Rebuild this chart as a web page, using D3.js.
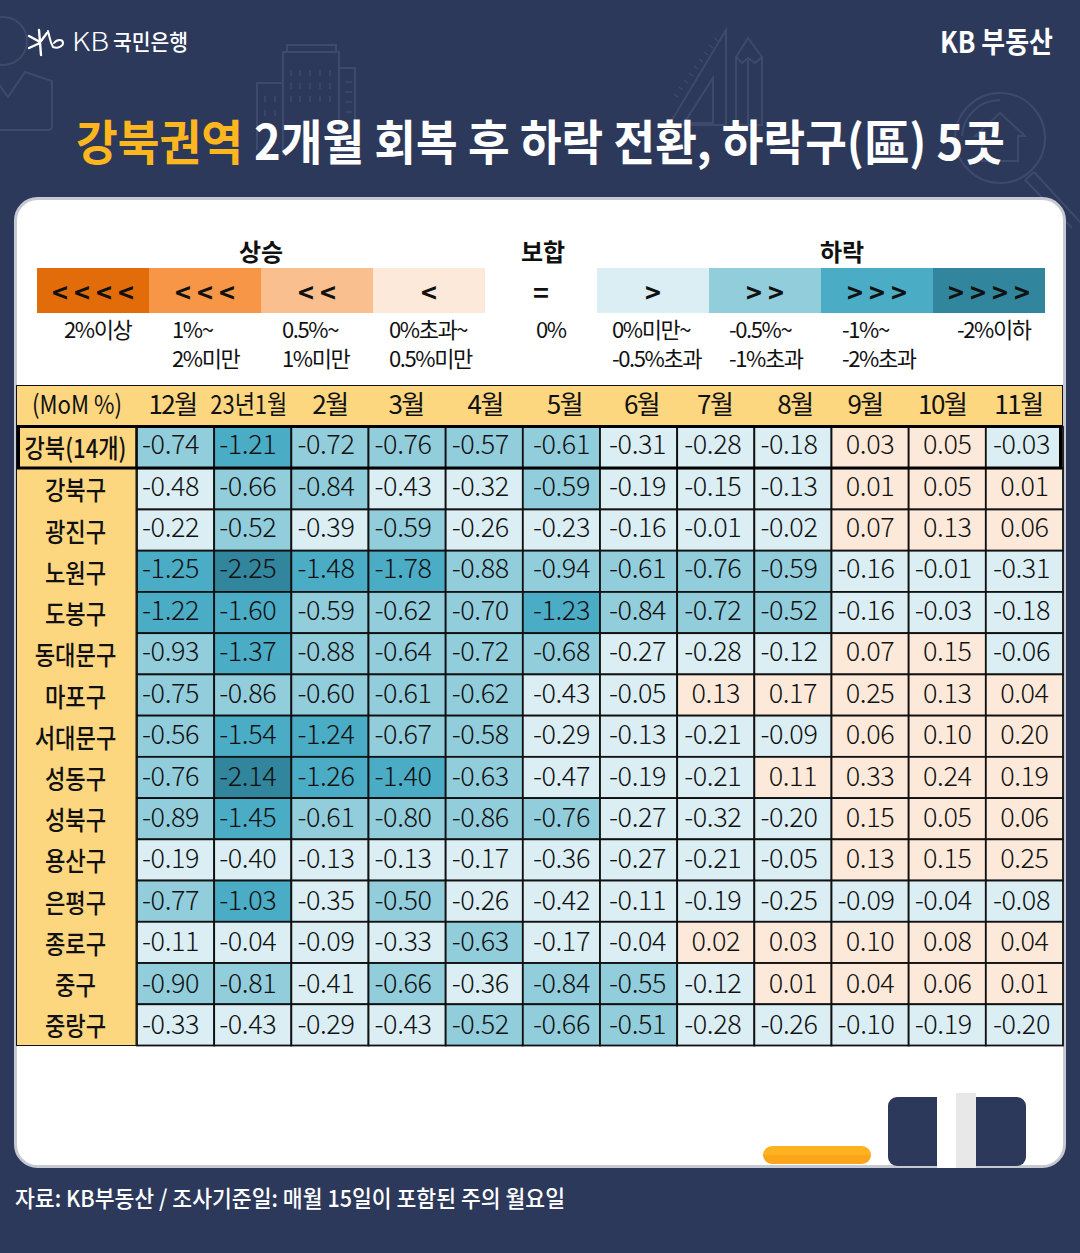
<!DOCTYPE html>
<html>
<head>
<meta charset="utf-8">
<script src="https://cdn.jsdelivr.net/npm/d3@7"></script>
<style>
  html, body { margin: 0; padding: 0; background: #2d395b; }
  svg { display: block; }
  text { font-family: "Noto Sans CJK KR", "Noto Sans", sans-serif; }
</style>
</head>
<body>
<svg id="chart" width="1080" height="1253"></svg>
<script>
// Chart values
var months = ["12월", "23년1월", "2월", "3월", "4월", "5월", "6월", "7월", "8월", "9월", "10월", "11월"];
var districts = ["강북(14개)", "강북구", "광진구", "노원구", "도봉구", "동대문구", "마포구", "서대문구", "성동구", "성북구", "용산구", "은평구", "종로구", "중구", "중랑구"];
var momValues = [
  ["-0.74", "-1.21", "-0.72", "-0.76", "-0.57", "-0.61", "-0.31", "-0.28", "-0.18", "0.03", "0.05", "-0.03"],
  ["-0.48", "-0.66", "-0.84", "-0.43", "-0.32", "-0.59", "-0.19", "-0.15", "-0.13", "0.01", "0.05", "0.01"],
  ["-0.22", "-0.52", "-0.39", "-0.59", "-0.26", "-0.23", "-0.16", "-0.01", "-0.02", "0.07", "0.13", "0.06"],
  ["-1.25", "-2.25", "-1.48", "-1.78", "-0.88", "-0.94", "-0.61", "-0.76", "-0.59", "-0.16", "-0.01", "-0.31"],
  ["-1.22", "-1.60", "-0.59", "-0.62", "-0.70", "-1.23", "-0.84", "-0.72", "-0.52", "-0.16", "-0.03", "-0.18"],
  ["-0.93", "-1.37", "-0.88", "-0.64", "-0.72", "-0.68", "-0.27", "-0.28", "-0.12", "0.07", "0.15", "-0.06"],
  ["-0.75", "-0.86", "-0.60", "-0.61", "-0.62", "-0.43", "-0.05", "0.13", "0.17", "0.25", "0.13", "0.04"],
  ["-0.56", "-1.54", "-1.24", "-0.67", "-0.58", "-0.29", "-0.13", "-0.21", "-0.09", "0.06", "0.10", "0.20"],
  ["-0.76", "-2.14", "-1.26", "-1.40", "-0.63", "-0.47", "-0.19", "-0.21", "0.11", "0.33", "0.24", "0.19"],
  ["-0.89", "-1.45", "-0.61", "-0.80", "-0.86", "-0.76", "-0.27", "-0.32", "-0.20", "0.15", "0.05", "0.06"],
  ["-0.19", "-0.40", "-0.13", "-0.13", "-0.17", "-0.36", "-0.27", "-0.21", "-0.05", "0.13", "0.15", "0.25"],
  ["-0.77", "-1.03", "-0.35", "-0.50", "-0.26", "-0.42", "-0.11", "-0.19", "-0.25", "-0.09", "-0.04", "-0.08"],
  ["-0.11", "-0.04", "-0.09", "-0.33", "-0.63", "-0.17", "-0.04", "0.02", "0.03", "0.10", "0.08", "0.04"],
  ["-0.90", "-0.81", "-0.41", "-0.66", "-0.36", "-0.84", "-0.55", "-0.12", "0.01", "0.04", "0.06", "0.01"],
  ["-0.33", "-0.43", "-0.29", "-0.43", "-0.52", "-0.66", "-0.51", "-0.28", "-0.26", "-0.10", "-0.19", "-0.20"]
];
var legendSymbols = ["< < < <", "< < <", "< <", "<", "=", ">", "> >", "> > >", "> > > >"];
var legendLabels = [["2%이상"], ["1%~", "2%미만"], ["0.5%~", "1%미만"], ["0%초과~", "0.5%미만"], ["0%"],
  ["0%미만~", "-0.5%초과"], ["-0.5%~", "-1%초과"], ["-1%~", "-2%초과"], ["-2%이하"]];
var legendColors = ["#e36c0a", "#f79646", "#fabf8f", "#fde9d9", "#ffffff", "#daeef3", "#92cddc", "#4bacc6", "#31859c"];

var navy = "#2d395b", deco = "#3d4a6d", ink = "#111";
var svg = d3.select("#chart");

// Faint line drawings behind the title
var bg = svg.append("g").attr("fill", "none").attr("stroke", deco).attr("stroke-width", 2);
bg.append("circle").attr("cx", 3).attr("cy", 41).attr("r", 24);
bg.append("path").attr("d", "M-2 83 L8 97 L25 72 L52 81 V126 Q52 130 48 130 H-2");
bg.append("path").attr("d", "M257 150 V83 H283 M283 155 V52 H339 V155 M287 52 V45 H336 V52 M339 68 H355 V150");
bg.append("path").attr("d", "M345 82 H352 M345 92 H352 M345 102 H352 M345 112 H352").attr("stroke-width", 1.5);
bg.append("path").attr("d", "M291 70 v6 M300 70 v6 M310 70 v6 M320 70 v6 M330 70 v6 M291 83 v6 M300 83 v6 M310 83 v6 M320 83 v6 M330 83 v6 M291 96 v6 M300 96 v6 M310 96 v6 M320 96 v6 M330 96 v6 M265 96 v6 M275 96 v6 M265 110 v6 M275 110 v6").attr("stroke-width", 1.5);
bg.append("path").attr("d", "M726 30 V125 H669 Z M713 78 V123 H684 Z");
bg.append("path").attr("stroke-width", 1.2)
  .attr("d", "M718 41 l-4 -3 M713 48 l-4 -3 M708 55 l-4 -3 M703 62 l-4 -3 M698 69 l-4 -3 M693 76 l-4 -3 M688 83 l-4 -3 M683 90 l-4 -3 M678 97 l-4 -3");
bg.append("path").attr("d", "M736 125 V57 L748 38 L762 57 V125 Z M736 57 L742 63 L748 58 L755 63 L762 57 M748 60 V125");
bg.append("circle").attr("cx", 1000).attr("cy", 138).attr("r", 45);
bg.append("path").attr("d", "M962 136 A38 38 0 0 1 1000 100");
bg.append("path").attr("d", "M1000 113 L1025 136 H1018 V161 H982 V136 H975 Z");
bg.append("path").attr("d", "M1034 172 L1080 222 M1025 180 L1072 228 M1034 172 L1025 180");

// Title and brand text
function label(parent, str, x, y, size, weight, color, anchor, len) {
  var t = parent.append("text").attr("x", x).attr("y", y).attr("font-size", size)
    .attr("font-weight", weight).attr("fill", color).attr("text-anchor", anchor || "start").text(str);
  if (len) t.attr("textLength", len).attr("lengthAdjust", "spacingAndGlyphs");
  return t;
}
label(svg, "강북권역", 76, 160, 48, 700, "#fdb61e", "start", 167);
label(svg, "2개월 회복 후 하락 전환, 하락구(區) 5곳", 254, 160, 48, 700, "#fff", "start", 751);
label(svg, "KB 부동산", 940, 53, 29, 700, "#fff", "start", 113);

// KB logo: star mark, then the name
var logo = svg.append("g").attr("stroke", "#fff").attr("fill", "none").attr("stroke-linecap", "round");
logo.append("path").attr("stroke-width", 2.4).attr("d", "M29 36 L40 42 M29 48 L40 43 M39 30 L41 55 M47 33 L41 41");
logo.append("path").attr("stroke-width", 2).attr("d", "M48 31 C50 38 50 42 53 47 C58 49 63 46 63 43 C63 39 57 39 54 43");
label(svg, "KB", 72, 51, 26, 300, "#fff", "start", 37);
label(svg, "국민은행", 113, 50, 22, 500, "#fff", "start", 75);

// White card
svg.append("rect").attr("x", 15.5).attr("y", 198.5).attr("width", 1049).attr("height", 968)
  .attr("rx", 22).attr("fill", "#fff").attr("stroke", "#c6c9d1").attr("stroke-width", 3);

// Legend
var legendX = d3.scaleBand().domain(legendSymbols).range([37, 1045]);
var legendTextX = [64, 172, 282, 389, 536, 612, 729, 842, 957];
var legend = svg.append("g");
legend.selectAll("rect").data(legendSymbols).join("rect")
  .attr("x", d => legendX(d)).attr("y", 268).attr("width", legendX.bandwidth()).attr("height", 45)
  .attr("fill", (d, i) => legendColors[i]);
legend.selectAll("text.sym").data(legendSymbols).join("text").attr("class", "sym")
  .attr("x", d => legendX(d) + legendX.bandwidth() / 2).attr("y", 303)
  .attr("text-anchor", "middle").attr("font-size", 27).attr("font-weight", 700).attr("fill", ink)
  .text(d => d);
legendLabels.forEach((lines, i) => {
  lines.forEach((line, j) => {
    label(legend, line, legendTextX[i], 338 + j * 29, 22, 400, ink).attr("letter-spacing", -1.4);
  });
});
label(legend, "상승", 261, 261, 24, 700, ink, "middle");
label(legend, "보합", 543, 261, 24, 700, ink, "middle");
label(legend, "하락", 842, 261, 24, 700, ink, "middle");

// Table scales: grid lines and the figures run on slightly different pitches in the picture
var x = d3.scaleBand().domain(d3.range(months.length)).range([137, 1063]);
var y = d3.scaleBand().domain(districts).range([427, 1045.5]);
var yText = d3.scalePoint().domain(districts).range([445, 1025]);

// Header row and district column
svg.append("rect").attr("x", 16.5).attr("y", 385.5).attr("width", 1046).attr("height", 41)
  .attr("fill", "#fdd680").attr("stroke", ink).attr("stroke-width", 1);
svg.append("rect").attr("x", 16.5).attr("y", 426.5).attr("width", 119.5).attr("height", 619)
  .attr("fill", "#fdd680").attr("stroke", ink).attr("stroke-width", 1);
label(svg, "(MoM %)", 77, 414, 26, 400, ink, "middle", 90);
var headerNudge = [-3, -4, 0, -1, 1, 3, 3, -1, 2, -5, -5, -6];
svg.selectAll("text.month").data(months).join("text").attr("class", "month")
  .attr("x", (d, i) => x(i) + x.bandwidth() / 2 + headerNudge[i]).attr("y", 414)
  .attr("text-anchor", "middle").attr("font-size", 26).attr("fill", ink)
  .attr("letter-spacing", d => d.length > 3 ? null : -1.5)
  .attr("textLength", d => d.length > 3 ? 77 : null).attr("lengthAdjust", "spacingAndGlyphs")
  .text(d => d);
svg.selectAll("text.district").data(districts).join("text").attr("class", "district")
  .attr("x", 75.5).attr("y", (d, i) => y(d) + y.bandwidth() / 2 + (i ? 11.5 : 10))
  .attr("text-anchor", "middle").attr("font-size", 26).attr("font-weight", 500).attr("fill", ink)
  .attr("textLength", (d, i) => i ? d.length * 20.4 : 102).attr("lengthAdjust", "spacingAndGlyphs")
  .text(d => d);

// Cells coloured by the legend's ranges (-0.5 itself falls in the darker class)
var shade = d3.scaleThreshold().domain([0, 0.5, 1, 2])
  .range(["#fde9d9", "#daeef3", "#92cddc", "#4bacc6", "#31859c"]);
var valueNudge = [-5, -5, -4, -4, -4, 0, -1, -3, -4, -4, -4, -3];
var rows = svg.selectAll("g.row").data(momValues).join("g").attr("class", "row");
rows.selectAll("rect").data((d, i) => d.map(v => ({ v: v, row: districts[i] }))).join("rect")
  .attr("x", (d, i) => x(i)).attr("y", d => y(d.row)).attr("width", x.bandwidth()).attr("height", y.bandwidth())
  .attr("fill", d => shade(-d.v)).attr("stroke", "#111").attr("stroke-width", 1.8);
rows.selectAll("text").data((d, i) => d.map(v => ({ v: v, row: districts[i] }))).join("text")
  .attr("x", (d, i) => x(i) + x.bandwidth() / 2 + (+d.v < 0 ? valueNudge[i] : 0))
  .attr("y", d => yText(d.row) + 9.2)
  .attr("text-anchor", "middle").attr("font-size", 27).attr("font-weight", 300)
  .attr("letter-spacing", -0.4).attr("fill", ink)
  .text(d => d.v);

// Heavy frame on the 강북 summary row
svg.append("rect").attr("x", 18.5).attr("y", 426.5).attr("width", 1042).attr("height", 41.5)
  .attr("fill", "none").attr("stroke", "#000").attr("stroke-width", 3);
svg.append("line").attr("x1", 136).attr("x2", 136).attr("y1", 427).attr("y2", 467)
  .attr("stroke", "#000").attr("stroke-width", 1);

// Bottom right ornaments
var pill = svg.append("defs").append("linearGradient").attr("id", "pill").attr("x2", 0).attr("y2", 1);
pill.append("stop").attr("offset", 0.5).attr("stop-color", "#fdb21f");
pill.append("stop").attr("offset", 0.5).attr("stop-color", "#fca51a");
svg.append("rect").attr("x", 763).attr("y", 1146).attr("width", 108).attr("height", 18).attr("rx", 9).attr("fill", "url(#pill)");
svg.append("rect").attr("x", 888).attr("y", 1097).attr("width", 138).attr("height", 69).attr("rx", 9).attr("fill", navy);
svg.append("rect").attr("x", 937).attr("y", 1094).attr("width", 19).attr("height", 74).attr("fill", "#fff");
svg.append("rect").attr("x", 956).attr("y", 1093).attr("width", 20).attr("height", 75).attr("fill", "#e8e8e8");

// Source note
label(svg, "자료: KB부동산 / 조사기준일: 매월 15일이 포함된 주의 월요일", 15, 1207, 23, 500, "#fff", "start", 550);
</script>
</body>
</html>
